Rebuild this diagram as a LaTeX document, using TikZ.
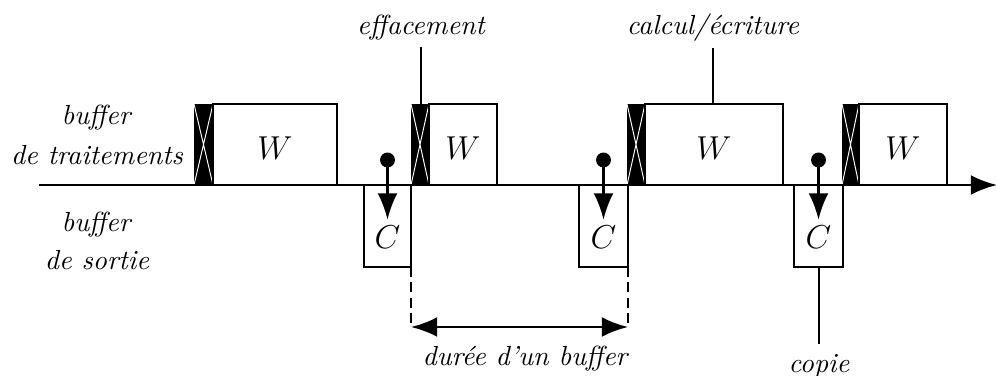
\documentclass[tikz,border=0pt]{standalone}
\usetikzlibrary{arrows.meta}
\begin{document}
\begin{tikzpicture}[
			x=0.01273cm, y=-0.01273cm,
			tampon/.style={draw=black, line width=0.9pt, fill=white},
			barre/.style={fill=black},
			croix/.style={draw=white, line width=0.35pt},
			fleche/.style={-{Latex[length=9.5pt,width=7.2pt]}, line width=0.9pt, black},
			double/.style={{Latex[length=9.5pt,width=7.2pt]}-{Latex[length=9.5pt,width=7.2pt]}, line width=0.9pt, black},
			renvoi/.style={line width=0.9pt, black},
			guide/.style={line width=0.5pt, dash pattern=on 3.6pt off 2pt, black},
			point/.style={circle, fill=black, inner sep=0pt, minimum size=5.4pt},
			lab/.style={font=\itshape, anchor=base},
			sym/.style={font=\fontsize{11.5}{13}\selectfont, inner sep=2pt},
			]
			\useasboundingbox (0,0) rectangle (996,376);
			
			%%═══ tampons de traitement (effacement + W) ═══════════════════════
			\foreach \a/\b/\c/\n in {194/213/337/1, 411/429/497/2, 627/645/783/3, 842/859/947/4}{
				\fill[barre] (\a,104) rectangle (\b,185);
				\draw[croix] (\a,104) -- (\b,185) (\b,104) -- (\a,185);
				\draw[tampon] (\b,104) rectangle (\c,185);
				\node[sym] (W\n) at ({(\b+\c)/2},148) {$W$};
			}
			
			%%═══ tampons de sortie (copie C) ══════════════════════════════════
			\foreach \a/\b/\n in {364/411/1, 579/628/2, 794/843/3}{
				\draw[tampon] (\a,185) rectangle (\b,267);
				\node[sym] (C\n) at ({(\a+\b)/2},237) {$C$};
				\node[point] (p\n) at ({(\a+\b)/2},160) {};
				\draw[fleche] (p\n.center) -- (C\n.north);
			}
			
			% axe du temps
			\coordinate (origine) at (39,185);
			\coordinate (fin) at (997,185);
			\draw[fleche] (origine) -- (fin);
			
			% durée d'un buffer
			\coordinate (d1) at (411,267);
			\coordinate (d2) at (628,267);
			\coordinate (f1) at (411,327);
			\coordinate (f2) at (628,327);
			\draw[guide] (d1) -- (f1);
			\draw[guide] (d2) -- (f2);
			\draw[double] (f1) -- (f2);
			\node[lab] (duree) at (525,366) {durée d'un buffer};
			
			% renvois
			\node[lab, inner sep=2pt] (eff) at (421,35) {effacement};
			\coordinate (e2) at (421,104);
			\draw[renvoi] (eff.south) -- (e2);
			\node[lab, inner sep=2pt] (calc) at (713,35) {calcul/écriture};
			\coordinate (e3) at (713,104);
			\draw[renvoi] (calc.south) -- (e3);
			\node[lab] (copie) at (819,372) {copie};
			\coordinate (b3) at (819,267);
			\draw[renvoi] (b3) -- (copie.north);
			
			% légendes à gauche
			\node[lab] (bt1) at (96,125) {buffer};
			\node[lab] (bt2) at (97,165) {de traitements};
			\node[lab] (bs1) at (96,232) {buffer};
			\node[lab] (bs2) at (97,270) {de sortie};
		\end{tikzpicture}
\end{document}
